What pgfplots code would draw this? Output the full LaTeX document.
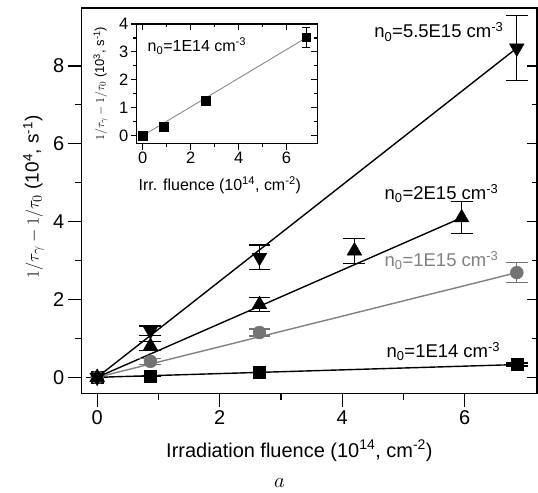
\documentclass[border=0pt]{standalone}
\usepackage{fontspec}
\setmainfont{Liberation Sans}
\usepackage{pgfplots}
\pgfplotsset{compat=1.18}
\usetikzlibrary{calc}
\definecolor{linegray}{gray}{0.5}
\definecolor{dotgray}{gray}{0.45}

\begin{document}
\begin{tikzpicture}
\pgfplotsset{
  fitline/.style={line width=1.4pt, no marks},
  ebar/.style={error bars/.cd, y dir=both, y explicit,
    error bar style={line width=1.2pt},
    error mark options={rotate=90, mark size=11pt, line width=1.2pt}},
  frame/.style={axis line style={line width=1.2pt},
    every tick/.style={line width=1.2pt, black}},
}
% main axis
\begin{axis}[name=main, at={(0,0)}, anchor=south west, scale only axis,
  width=456pt, height=386pt, frame,
  xmin=-0.25, xmax=7.18, ymin=-0.41, ymax=9.49,
  xtick={0,2,4,6}, ytick={0,2,4,6,8}, minor tick num=1,
  tick align=outside, xtick pos=bottom, ytick pos=left,
  major tick length=14pt, minor tick length=7pt,
  tick label style={font=\fontsize{20}{24}\selectfont},
  /pgf/number format/assume math mode=true,
  clip=false,
  xlabel={Irradiation fluence (10\textsuperscript{14}, cm\textsuperscript{-2})},
  xlabel style={font=\fontsize{20}{24}\selectfont, at={(axis description cs:0.478,0)}, anchor=base, yshift=-64pt},
  ylabel={$1/\tau_\gamma - 1/\tau_0$ (10\textsuperscript{4}, s\textsuperscript{-1})},
  ylabel style={font=\fontsize{19}{23}\selectfont, at={(axis description cs:-0.106,0.51)}, anchor=center},
]
\addplot[fitline] coordinates {(0,0) (6.85,8.46)};
\addplot[fitline] coordinates {(0,0) (5.95,4.1)};
\addplot[fitline, linegray] coordinates {(0,0) (6.85,2.69)};
\addplot[fitline] coordinates {(0,0) (6.9,0.33)};

\addplot[only marks, mark=square*, mark size=6pt, black, ebar] coordinates {
  (0,0) +- (0,0) (0.87,0.03) +- (0,0) (2.65,0.12) +- (0,0) (6.85,0.33) +- (0,0.04)};
\addplot[only marks, mark=*, mark size=6.5pt, dotgray, ebar] coordinates {
  (0,0) +- (0,0) (0.87,0.41) +- (0,0.08) (2.65,1.15) +- (0,0.09) (6.85,2.69) +- (0,0.26)};
\addplot[only marks, mark=triangle*, mark size=8.5pt, black, ebar] coordinates {
  (0,0) +- (0,0) (0.87,0.8) +- (0,0.11) (2.65,1.87) +- (0,0.18) (4.2,3.25) +- (0,0.32) (5.95,4.1) +- (0,0.41)};
\addplot[only marks, mark=triangle*, mark options={rotate=180}, mark size=8.5pt, black, ebar] coordinates {
  (0,0) +- (0,0) (0.87,1.2) +- (0,0.12) (2.65,3.08) +- (0,0.32) (6.85,8.46) +- (0,0.84)};

\node[anchor=base west, inner sep=0, font=\fontsize{18.5}{22}\selectfont] at (axis cs:4.52,8.72) {n\textsubscript{0}=5.5E15 cm\textsuperscript{-3}};
\node[anchor=base west, inner sep=0, font=\fontsize{18.5}{22}\selectfont] at (axis cs:4.69,4.56) {n\textsubscript{0}=2E15 cm\textsuperscript{-3}};
\node[anchor=base west, inner sep=0, font=\fontsize{18.5}{22}\selectfont, text=linegray] at (axis cs:4.69,2.85) {n\textsubscript{0}=1E15 cm\textsuperscript{-3}};
\node[anchor=base west, inner sep=0, font=\fontsize{18.5}{22}\selectfont] at (axis cs:4.72,0.51) {n\textsubscript{0}=1E14 cm\textsuperscript{-3}};
\node[anchor=base, inner sep=0, yshift=-94pt, font=\fontsize{22}{26}\selectfont] at (axis description cs:0.434,0) {$a$};
\end{axis}
% right-hand inward ticks of the main frame
\begin{axis}[at={(0,0)}, anchor=south west, scale only axis,
  width=456pt, height=386pt, frame,
  xmin=-0.25, xmax=7.18, ymin=-0.41, ymax=9.49,
  axis x line=none, axis y line*=right,
  ytick={0,2,4,6,8}, minor tick num=1, yticklabels={},
  tick align=inside, major tick length=10pt, minor tick length=5pt]
\end{axis}

% inset
\begin{axis}[name=ins, at={(55pt,250pt)}, anchor=south west, scale only axis,
  width=181pt, height=120pt, frame, axis background/.style={fill=white},
  xmin=-0.25, xmax=7.29, ymin=-0.29, ymax=4,
  xtick={0,2,4,6}, ytick={0,1,2,3,4}, minor tick num=1,
  tick align=outside, xtick pos=bottom, ytick pos=left,
  major tick length=6pt, minor tick length=3.5pt,
  tick label style={font=\fontsize{16.5}{20}\selectfont},
  xticklabel style={yshift=1pt}, yticklabel style={xshift=1pt},
  /pgf/number format/assume math mode=true,
  clip=false,
  xlabel={Irr. fluence (10\textsuperscript{14}, cm\textsuperscript{-2})},
  xlabel style={font=\fontsize{16}{19}\selectfont, at={(axis description cs:0.46,0)}, anchor=base, yshift=-47pt},
  ylabel={$1/\tau_\gamma - 1/\tau_0$ (10\textsuperscript{3}, s\textsuperscript{-1})},
  ylabel style={font=\fontsize{13}{16}\selectfont, at={(axis description cs:-0.2,0.5)}, anchor=center},
]
\addplot[no marks, linegray, line width=0.8pt] coordinates {(0,0) (6.85,3.52)};
\addplot[only marks, mark=square*, mark size=4.2pt, black,
  error bars/.cd, y dir=both, y explicit,
  error bar style={line width=0.8pt},
  error mark options={rotate=90, mark size=4pt, line width=0.8pt}] coordinates {
  (0,0) +- (0,0) (0.875,0.32) +- (0,0) (2.63,1.25) +- (0,0) (6.83,3.52) +- (0,0.36)};
\node[anchor=base west, inner sep=0, font=\fontsize{16}{19}\selectfont] at (axis cs:0.2,3.0) {n\textsubscript{0}=1E14 cm\textsuperscript{-3}};
\end{axis}
\begin{axis}[at={(55pt,250pt)}, anchor=south west, scale only axis,
  width=181pt, height=120pt, frame,
  xmin=-0.25, xmax=7.29, ymin=-0.29, ymax=4,
  axis x line*=top, axis y line*=right,
  xtick={0,2,4,6}, ytick={0,1,2,3,4}, minor tick num=1,
  xticklabels={}, yticklabels={},
  tick align=inside, major tick length=6pt, minor tick length=3.5pt]
\end{axis}

\pgfresetboundingbox
\path[use as bounding box] ($(main.south west)+(-82pt,-99pt)$) rectangle ($(main.north east)+(1pt,8pt)$);
\end{tikzpicture}
\end{document}
